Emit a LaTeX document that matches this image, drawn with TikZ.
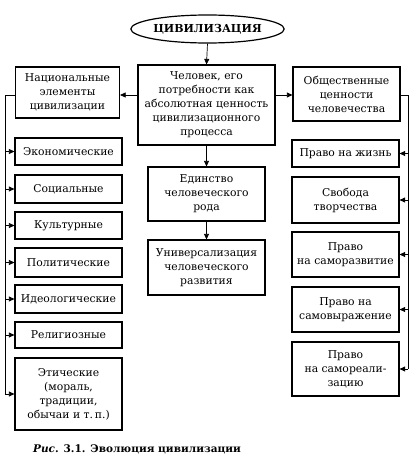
\documentclass[tikz,border=0pt]{standalone}
\usepackage{fontspec}
\setmainfont{DejaVu Serif}
\usetikzlibrary{arrows.meta,shapes.geometric}
\begin{document}
\begin{tikzpicture}[x=1pt,y=-1pt,
  box/.style={draw,line width=1.2pt,align=center,inner sep=0pt,font=\fontsize{10.8}{14}\selectfont},
  lbox/.style={box,minimum width=107pt},
  arr/.style={-{Triangle[length=5.5pt,width=5pt]},line width=0.7pt},
  conn/.style={line width=0.7pt}]
\useasboundingbox (0,0) rectangle (415,471);
% top
\node[draw,ellipse,line width=1.2pt,minimum width=139pt,minimum height=28pt,inner sep=0pt,font=\fontsize{11}{13}\selectfont\bfseries] (civ) at (207.5,29) {ЦИВИЛИЗАЦИЯ};
\node[box,minimum width=137pt,minimum height=80pt] (man) at (206.5,105) {Человек, его\\потребности как\\абсолютная ценность\\цивилизационного\\процесса};
\node[box,minimum width=104pt,minimum height=51pt] (nat) at (67.5,92.5) {Национальные\\элементы\\цивилизации};
\node[box,minimum width=107pt,minimum height=54pt] (soc) at (346.5,94) {Общественные\\ценности\\человечества};
% centre column
\node[box,minimum width=117pt,minimum height=54pt] (uni) at (206.5,194) {Единство\\человеческого\\рода};
\node[box,minimum width=117pt,minimum height=55pt] (univ) at (206.5,267.5) {Универсализация\\человеческого\\развития};
% left column
\node[lbox,minimum height=27pt] (l1) at (68.5,151.5) {Экономические};
\node[lbox,minimum height=28pt] (l2) at (68.5,189) {Социальные};
\node[lbox,minimum height=27pt] (l3) at (68.5,225.5) {Культурные};
\node[lbox,minimum height=29pt] (l4) at (68.5,262.5) {Политические};
\node[lbox,minimum height=28pt] (l5) at (68.5,299) {Идеологические};
\node[lbox,minimum height=26pt] (l6) at (68.5,335) {Религиозные};
\node[lbox,minimum height=72pt] (l7) at (68.5,394) {Этические\\(мораль,\\традиции,\\обычаи и т.\,п.)};
% right column
\node[lbox,minimum height=27pt] (r1) at (345.5,153.5) {Право на жизнь};
\node[lbox,minimum height=46pt] (r2) at (345.5,200) {Свобода\\творчества};
\node[lbox,minimum height=45pt] (r3) at (345.5,254.5) {Право\\на саморазвитие};
\node[lbox,minimum height=45pt] (r4) at (345.5,309.5) {Право на\\самовыражение};
\node[lbox,minimum height=54pt] (r5) at (345.5,369) {Право\\на самореали-\\зацию};
% caption
\node[font=\fontsize{10.5}{13}\selectfont\bfseries,anchor=west,inner sep=0pt] (cap) at (33,449) {\textit{Рис}. 3.1. Эволюция цивилизации};
% connectors
\coordinate (lt) at (5,95);
\coordinate (rt) at (408,95);
\draw[arr] (civ.south) -- (man.north);
\draw[arr] (man.west |- lt) -- (nat.east |- lt);
\draw[arr] (man.east |- rt) -- (soc.west |- rt);
\draw[arr] (man.south -| uni.north) -- (uni.north);
\draw[arr] (uni.south) -- (univ.north);
\draw[conn] (nat.west |- lt) -- (lt) -- (lt |- l7.west);
\draw[conn] (soc.east |- rt) -- (rt) -- (rt |- r5.east);
\foreach \b in {l1,l2,l3,l4,l5,l6,l7} \draw[arr] (lt |- \b.west) -- (\b.west);
\foreach \b in {r1,r2,r3,r4,r5} \draw[arr] (rt |- \b.east) -- (\b.east);
\end{tikzpicture}
\end{document}
